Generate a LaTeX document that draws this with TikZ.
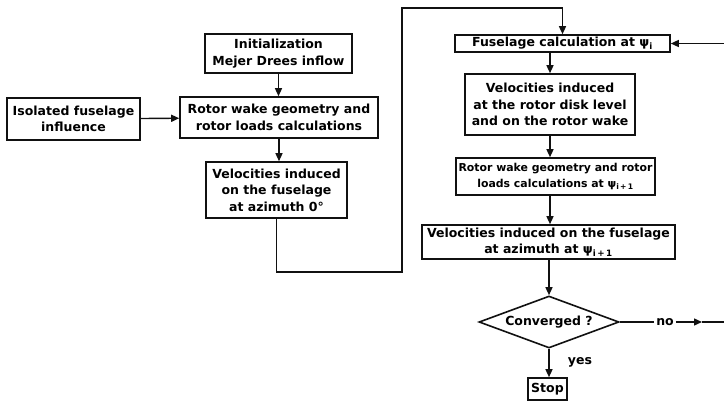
\documentclass[tikz,border=0pt]{standalone}
\usepackage{fontspec}
\setmainfont{DejaVu Sans}
\usepackage{xcolor}
\usetikzlibrary{positioning,arrows.meta,shapes.geometric}
\definecolor{fcInk}{HTML}{111111}
\definecolor{fcPaper}{HTML}{FFFFFF}
\tikzset{
  fc-box/.style={
    draw=fcInk, line width=1.6pt, fill=fcPaper, align=center,
    font=\fontsize{12.5}{16.5}\selectfont\bfseries, inner sep=0pt
  },
  fc-dec/.style={fc-box, diamond, aspect=2.7},
  fc-flow/.style={-{Triangle[length=8pt,width=7pt]}, line width=1.4pt, draw=fcInk},
  fc-line/.style={line width=1.4pt, draw=fcInk},
  fc-label/.style={font=\fontsize{12.5}{14}\selectfont\bfseries, inner sep=2pt}
}

\begin{document}
\begin{tikzpicture}[x=1pt, y=-1pt]
\useasboundingbox[fill=fcPaper] (0,0) rectangle (724,407);
% Left column
\node[fc-box, minimum width=147pt, minimum height=39pt] (init) at (278.5,53.5)
  {Initialization\\Mejer Drees inflow};
\node[fc-box, minimum width=133pt, minimum height=42pt] (iso) at (73.5,119)
  {Isolated fuselage\\influence};
\node[fc-box, minimum width=198pt, minimum height=41pt] (wake) at (279,117.5)
  {Rotor wake geometry and\\rotor loads calculations};
\node[fc-box, minimum width=141pt, minimum height=56pt] (vel0) at (276.5,190)
  {Velocities induced\\on the fuselage\\at azimuth 0°};
% Right column (iteration loop)
\node[fc-box, minimum width=215pt, minimum height=17pt] (fus) at (562.5,43.5)
  {Fuselage calculation at ψ\textsubscript{i}};
\node[fc-box, minimum width=170pt, minimum height=61pt] (velr) at (550,104.5)
  {Velocities induced\\at the rotor disk level\\and on the rotor wake};
\node[fc-box, minimum width=199pt, minimum height=37pt,
  font=\fontsize{10.9}{16.5}\selectfont\bfseries] (wake2) at (555.5,176.5)
  {Rotor wake geometry and rotor\\loads calculations at ψ\textsubscript{i\,+\,1}};
\node[fc-box, minimum width=253pt, minimum height=34pt] (velf) at (548.5,242)
  {Velocities induced on the fuselage\\at azimuth at ψ\textsubscript{i\,+\,1}};
\node[fc-dec, minimum width=140pt, minimum height=52pt] (conv) at (549,322)
  {Converged ?};
\node[fc-box, minimum width=39pt, minimum height=22pt] (stop) at (547.5,389)
  {Stop};
\node[fc-label] (no) at (665,322) {no};
\node[fc-label] (yes) at (580,362) {yes};
% Helper points
\coordinate (c1) at (402,272);
\coordinate (c2) at (402,8);
\coordinate (arw) at (702,322);
\coordinate (e1) at (727,322);
\coordinate (e2) at (727,43.5);
% Connectors
\draw[fc-flow] (init.south) -- (init.south |- wake.north);
\draw[fc-flow] (iso) -- (wake);
\draw[fc-flow] (wake.south) -- (wake.south |- vel0.north);
\draw[fc-flow] (vel0.south) |- (c1) -- (c2) -| (fus.north);
\draw[fc-flow] (fus.south -| velr.north) -- (velr.north);
\draw[fc-flow] (velr.south) -- (velr.south |- wake2.north);
\draw[fc-flow] (wake2.south -| velr.south) -- (velr.south |- velf.north);
\draw[fc-flow] (velf.south -| conv.north) -- (conv.north);
\draw[fc-flow] (conv.south) -- (conv.south |- stop.north);
\draw[fc-line] (conv.east) -- (no.west);
\draw[fc-flow] (no.east) -- (arw);
\draw[fc-flow] (arw) -- (e1) -- (e2) -- (fus.east);
\end{tikzpicture}
\end{document}
